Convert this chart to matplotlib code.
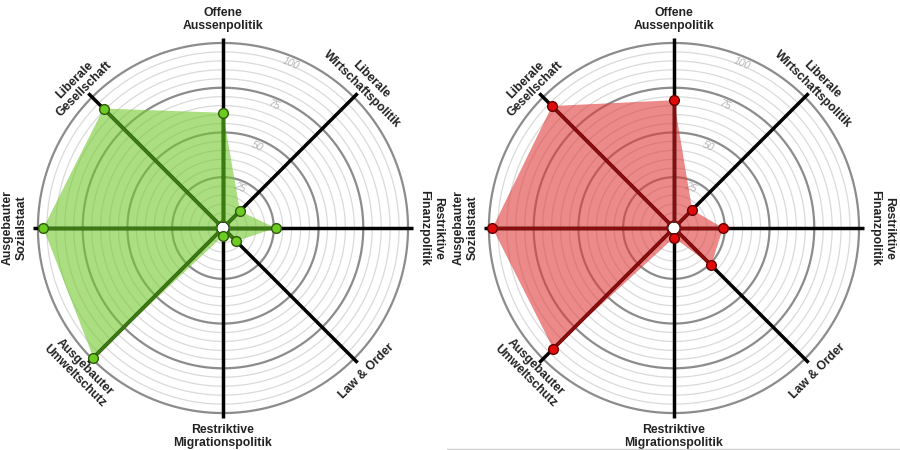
import numpy as np
import matplotlib.pyplot as plt

# smartspider axes, clockwise from the top
categories = ['Offene\nAussenpolitik', 'Liberale\nWirtschaftspolitik', 'Restriktive\nFinanzpolitik',
              'Law & Order', 'Restriktive\nMigrationspolitik', 'Ausgebauter\nUmweltschutz',
              'Ausgebauter\nSozialstaat', 'Liberale\nGesellschaft']
green_values = [61, 10, 26, 7, 1, 99, 97, 91]
red_values = [68, 11, 24, 26, 2, 92, 98, 93]
ring_labels = [25, 50, 75, 100]

plt.rcParams['font.family'] = ['Liberation Sans', 'DejaVu Sans']


def draw_spider(ax, values, fill_color, line_color, face_color, edge_color):
    n = len(categories)
    angles = np.arange(n) * 2 * np.pi / n
    ax.set_theta_zero_location('N')
    ax.set_theta_direction(-1)
    ax.set_ylim(0, 105)
    ax.set_rorigin(-3.4)
    ax.grid(False)
    ax.set_xticks([])
    ax.set_yticks([])
    ax.spines['polar'].set_visible(False)

    # rings every 5, darker every 25
    circle = np.linspace(0, 2 * np.pi, 400)
    for v in range(5, 101, 5):
        if v % 25 == 0:
            ax.plot(circle, [v] * len(circle), color='#8c8c8c', lw=1.6, zorder=1)
        else:
            ax.plot(circle, [v] * len(circle), color='#dadada', lw=0.9, zorder=1)
    for v in ring_labels:
        ax.text(np.deg2rad(22.5), v - 4, str(v), color='#b4b4b4', fontsize=7.5, style='italic',
                rotation=-22.5, ha='center', va='center', zorder=2)

    # filled profile
    a = np.append(angles, angles[0])
    vals = np.append(values, values[0])
    ax.fill(a, vals, color=fill_color, alpha=0.6, lw=0, zorder=2)

    # spokes
    for ang, v in zip(angles, values):
        ax.plot([ang, ang], [0, 103], color='black', lw=2.5, solid_capstyle='butt', zorder=3)
        ax.plot([ang, ang], [0, v], color=line_color, lw=2.5, solid_capstyle='butt', zorder=4)
    ax.plot(circle, [0] * len(circle), color=line_color, lw=2.2, zorder=4)
    ax.plot(angles, values, 'o', ms=7, mfc=face_color, mec=edge_color, mew=1.0,
            zorder=5, clip_on=False)

    # axis labels
    for i, (ang, lab) in enumerate(zip(angles, categories)):
        phi = np.rad2deg(ang)
        rot = 180 - phi if phi in (135, 180, 225) else -phi
        r = 113 if i % 2 == 0 else 110
        ax.text(ang, r, lab, rotation=rot, rotation_mode='anchor', ha='center', va='center',
                fontsize=8.8, fontweight='bold', color='#222222', linespacing=1.15,
                clip_on=False)


fig = plt.figure(figsize=(9, 4.5), dpi=100)
ax1 = fig.add_axes([0.0322, 0.0622, 0.4311, 0.8622], projection='polar')
ax2 = fig.add_axes([0.5333, 0.0622, 0.4311, 0.8622], projection='polar')

draw_spider(ax1, green_values, '#72c92e', '#3b7a10', '#6ccc22', '#2e5a0c')
draw_spider(ax2, red_values, '#e03c3c', '#8a0c0c', '#e00a0a', '#660000')

# faint baseline under the right chart
fig.add_artist(plt.Line2D([0.497, 1.0], [0.003, 0.003], color='#d0d0d0', lw=1))

fig.savefig('out.png', dpi=100)
